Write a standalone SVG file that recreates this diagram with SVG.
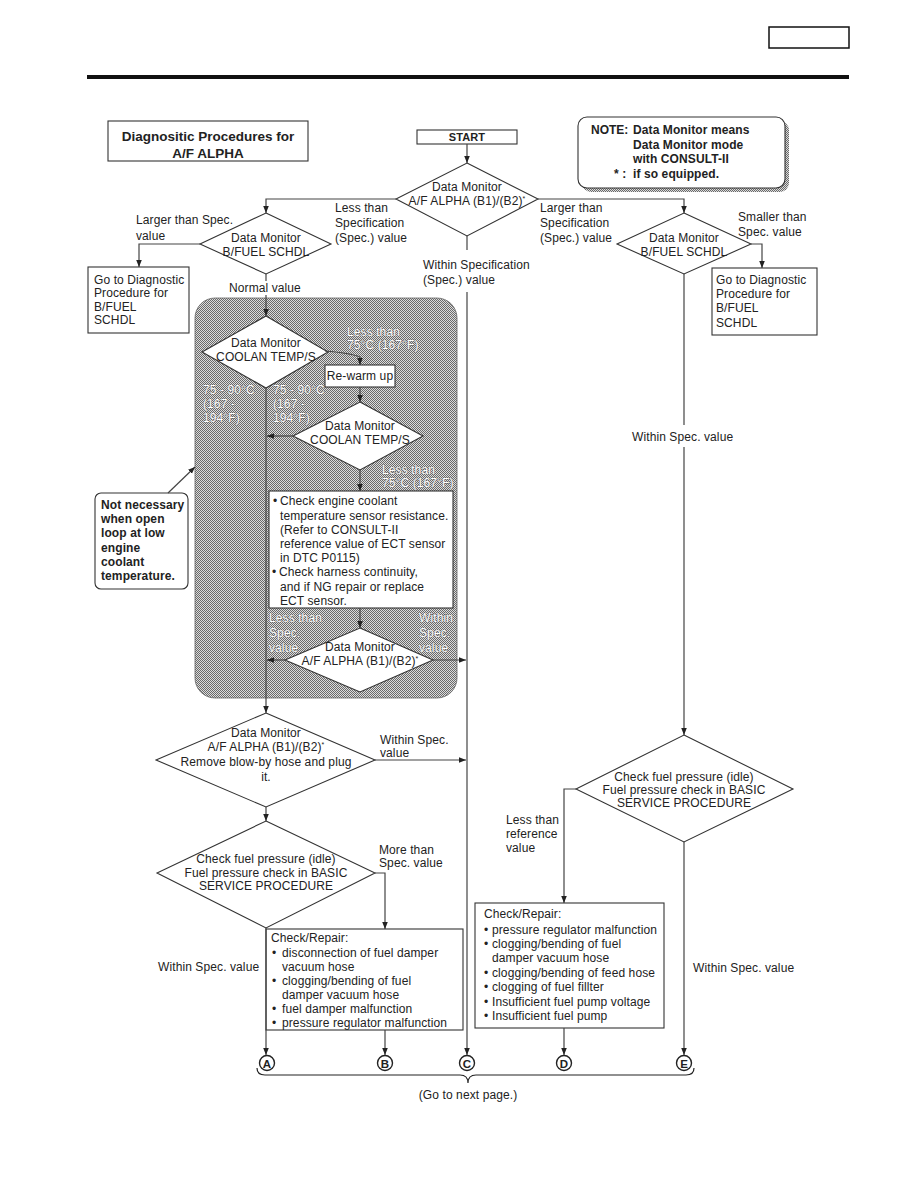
<svg xmlns="http://www.w3.org/2000/svg" width="918" height="1188" viewBox="0 0 918 1188">
<style>
text{font-family:"Liberation Sans",Arial,sans-serif;font-size:12px;letter-spacing:0.1px;fill:#222}
.b{font-weight:bold}
.c{text-anchor:middle}
.ht{fill:#fff;stroke:#555;stroke-width:0.6;paint-order:stroke}
.sh{fill:#fff;stroke:#222;stroke-width:1.4}
.nd{fill:#fff;stroke:#333;stroke-width:1.1}
.cn path{fill:none;stroke:#444;stroke-width:1.2}
.ar{marker-end:url(#ah)}
.lt{font-weight:bold;font-size:11.5px;letter-spacing:0}
</style>
<defs>
<pattern id="dither" width="2" height="2" patternUnits="userSpaceOnUse">
<rect width="2" height="2" fill="#dcdcdc"/>
<rect width="1" height="1" fill="#6a6a6a"/>
<rect x="1" y="1" width="1" height="1" fill="#6a6a6a"/>
</pattern>
<marker id="ah" viewBox="0 0 10 10" refX="10" refY="5" markerWidth="7" markerHeight="7" markerUnits="userSpaceOnUse" orient="auto">
<path d="M0,1 L10,5 L0,9 z" fill="#222"/>
</marker>
</defs>
<rect width="918" height="1188" fill="#fff"/>

<g id="header">
<rect x="769" y="27" width="80" height="21" fill="none" stroke="#111" stroke-width="1.5"/>
<rect x="87" y="75" width="762" height="4" fill="#111"/>
</g>

<g id="shaded-region">
<rect x="195" y="298" width="262" height="400" rx="20" fill="url(#dither)" stroke="#666" stroke-width="0.8"/>
</g>

<g id="title">
<rect class="nd" x="108" y="121" width="200" height="40"/>
<text class="b c" x="208" y="141" style="font-size:13.5px;letter-spacing:0">Diagnositic Procedures for</text>
<text class="b c" x="208" y="158" style="font-size:13.5px;letter-spacing:0">A/F ALPHA</text>
</g>

<g id="note">
<rect x="582" y="121" width="207" height="71" rx="9" fill="url(#dither)"/>
<rect class="nd" x="578" y="117" width="207" height="71" rx="9"/>
<text class="b" x="591" y="134" style="letter-spacing:0">NOTE:</text>
<text class="b" x="633" y="134">Data Monitor means</text>
<text class="b" x="633" y="149">Data Monitor mode</text>
<text class="b" x="633" y="163">with CONSULT-II</text>
<text class="b" x="614" y="178">* :</text>
<text class="b" x="633" y="178">if so equipped.</text>
</g>

<g id="start">
<rect class="nd" x="417" y="130" width="100" height="14"/>
<text class="b c" x="467" y="141" style="font-size:11px">START</text>
</g>

<g id="d1">
<polygon class="nd" points="467,163 538,199 467,236 396,199"/>
<text class="c" x="467" y="191">Data Monitor</text>
<text class="c" x="467" y="205">A/F ALPHA (B1)/(B2)<tspan dy="-4" style="font-size:7px">*</tspan></text>
</g>

<g id="d2">
<polygon class="nd" points="266,213 331,244 266,274 200,244"/>
<text class="c" x="266" y="242">Data Monitor</text>
<text class="c" x="266" y="256">B/FUEL SCHDL</text>
</g>

<g id="d3">
<polygon class="nd" points="684,213 751,244 684,274 617,244"/>
<text class="c" x="684" y="242">Data Monitor</text>
<text class="c" x="684" y="256">B/FUEL SCHDL</text>
</g>

<g id="goto-left">
<rect class="nd" x="88" y="267" width="101" height="66"/>
<text x="94" y="284">Go to Diagnostic</text>
<text x="94" y="297">Procedure for</text>
<text x="94" y="311">B/FUEL</text>
<text x="94" y="324">SCHDL</text>
</g>

<g id="goto-right">
<rect class="nd" x="712" y="268" width="105" height="67"/>
<text x="716" y="284">Go to Diagnostic</text>
<text x="716" y="298">Procedure for</text>
<text x="716" y="312">B/FUEL</text>
<text x="716" y="327">SCHDL</text>
</g>

<g id="d4">
<polygon class="nd" points="266,316 328,352 266,388 202,352"/>
<text class="c" x="266" y="347">Data Monitor</text>
<text class="c" x="266" y="361">COOLAN TEMP/S</text>
</g>

<g id="rewarm">
<rect class="nd" x="325" y="365" width="70" height="22"/>
<text class="c" x="360" y="380">Re-warm up</text>
</g>

<g id="d5">
<polygon class="nd" points="360,402 423,436 360,470 293,436"/>
<text class="c" x="360" y="430">Data Monitor</text>
<text class="c" x="360" y="444">COOLAN TEMP/S</text>
</g>

<g id="check-ect">
<rect class="nd" x="269" y="491" width="184" height="117"/>
<text x="273" y="505">•</text><text x="280" y="505">Check engine coolant</text>
<text x="280" y="520">temperature sensor resistance.</text>
<text x="280" y="534">(Refer to CONSULT-II</text>
<text x="280" y="548">reference value of ECT sensor</text>
<text x="280" y="562">in DTC P0115)</text>
<text x="272" y="576">•</text><text x="279" y="576">Check harness continuity,</text>
<text x="280" y="591">and if NG repair or replace</text>
<text x="280" y="605">ECT sensor.</text>
</g>

<g id="d6">
<polygon class="nd" points="360,628 433,660 360,692 285,660"/>
<text class="c" x="360" y="651">Data Monitor</text>
<text class="c" x="360" y="665">A/F ALPHA (B1)/(B2)<tspan dy="-4" style="font-size:7px">*</tspan></text>
</g>

<g id="not-necessary">
<rect class="nd" x="95" y="493" width="93" height="96" rx="6"/>
<text class="b" x="101" y="509">Not necessary</text>
<text class="b" x="101" y="523">when open</text>
<text class="b" x="101" y="537">loop at low</text>
<text class="b" x="101" y="552">engine</text>
<text class="b" x="101" y="566">coolant</text>
<text class="b" x="101" y="580">temperature.</text>
</g>

<g id="d7">
<polygon class="nd" points="266,713 375,760 266,807 156,760"/>
<text class="c" x="266" y="737">Data Monitor</text>
<text class="c" x="266" y="751">A/F ALPHA (B1)/(B2)<tspan dy="-4" style="font-size:7px">*</tspan></text>
<text class="c" x="266" y="766">Remove blow-by hose and plug</text>
<text class="c" x="266" y="781">it.</text>
</g>

<g id="d8">
<polygon class="nd" points="266,821 375,873 266,928 157,873"/>
<text class="c" x="266" y="863">Check fuel pressure (idle)</text>
<text class="c" x="266" y="877">Fuel pressure check in BASIC</text>
<text class="c" x="266" y="890">SERVICE PROCEDURE</text>
</g>

<g id="repair-b">
<rect class="nd" x="266" y="929" width="197" height="101"/>
<text x="271" y="942">Check/Repair:</text>
<text x="272" y="957">•</text><text x="282" y="957">disconnection of fuel damper</text>
<text x="282" y="971">vacuum hose</text>
<text x="272" y="985">•</text><text x="282" y="985">clogging/bending of fuel</text>
<text x="282" y="999">damper vacuum hose</text>
<text x="272" y="1013">•</text><text x="282" y="1013">fuel damper malfunction</text>
<text x="272" y="1027">•</text><text x="282" y="1027">pressure regulator malfunction</text>
</g>

<g id="d9">
<polygon class="nd" points="684,735 793,789 684,842 576,789"/>
<text class="c" x="684" y="781">Check fuel pressure (idle)</text>
<text class="c" x="684" y="794">Fuel pressure check in BASIC</text>
<text class="c" x="684" y="807">SERVICE PROCEDURE</text>
</g>

<g id="repair-d">
<rect class="nd" x="475" y="903" width="189" height="125"/>
<text x="484" y="918">Check/Repair:</text>
<text x="484" y="934">•</text><text x="492" y="934">pressure regulator malfunction</text>
<text x="484" y="948">•</text><text x="492" y="948">clogging/bending of fuel</text>
<text x="492" y="962">damper vacuum hose</text>
<text x="484" y="977">•</text><text x="492" y="977">clogging/bending of feed hose</text>
<text x="484" y="991">•</text><text x="492" y="991">clogging of fuel fillter</text>
<text x="484" y="1006">•</text><text x="492" y="1006">Insufficient fuel pump voltage</text>
<text x="484" y="1020">•</text><text x="492" y="1020">Insufficient fuel pump</text>
</g>

<g id="connectors" class="cn">
<path class="ar" d="M467,144 V163"/>
<path class="ar" d="M396,199 H266 V213"/>
<path class="ar" d="M538,199 H684 V213"/>
<path class="ar" d="M200,244 H139 V267"/>
<path class="ar" d="M751,244 H762 V268"/>
<path d="M467,236 V250"/>
<path class="ar" d="M467,292 V1055"/>
<path d="M266,274 V281"/>
<path class="ar" d="M266,295 V316"/>
<path class="ar" d="M325,351 Q350,353 360,357 V365"/>
<path class="ar" d="M360,387 V402"/>
<path class="ar" d="M293,436 H267"/>
<path class="ar" d="M266,388 V713"/>
<path class="ar" d="M360,470 V491"/>
<path class="ar" d="M360,608 V628"/>
<path class="ar" d="M285,660 H267"/>
<path class="ar" d="M433,660 H466"/>
<path class="ar" d="M375,760 H466"/>
<path class="ar" d="M266,807 V821"/>
<path class="ar" d="M375,873 H385 V929"/>
<path class="ar" d="M266,928 V1055"/>
<path class="ar" d="M385,1030 V1055"/>
<path d="M684,274 V425"/>
<path class="ar" d="M684,447 V735"/>
<path class="ar" d="M576,789 H564 V903"/>
<path class="ar" d="M564,1028 V1055"/>
<path class="ar" d="M684,842 V1055"/>
<path class="ar" d="M168,493 L195,467"/>
<path d="M257,1068 Q257,1075 265,1075 H460 Q468,1075 468,1083 Q468,1075 476,1075 H686 Q694,1075 694,1068" style="stroke:#222"/>
</g>

<g id="labels">
<text x="136" y="224">Larger than Spec.</text>
<text x="136" y="240">value</text>
<text x="335" y="212">Less than</text>
<text x="335" y="227">Specification</text>
<text x="335" y="242">(Spec.) value</text>
<text x="540" y="212">Larger than</text>
<text x="540" y="227">Specification</text>
<text x="540" y="242">(Spec.) value</text>
<text x="738" y="221">Smaller than</text>
<text x="738" y="236">Spec. value</text>
<text x="229" y="292">Normal value</text>
<text x="423" y="269">Within Specification</text>
<text x="423" y="284">(Spec.) value</text>
<text x="632" y="441">Within Spec. value</text>
<text class="ht" x="347" y="336">Less than</text>
<text class="ht" x="347" y="349">75°C (167°F)</text>
<text class="ht" x="203" y="394">75 - 90°C</text>
<text class="ht" x="203" y="408">(167 -</text>
<text class="ht" x="203" y="422">194°F)</text>
<text class="ht" x="273" y="394">75 - 90°C</text>
<text class="ht" x="273" y="408">(167 -</text>
<text class="ht" x="273" y="422">194°F)</text>
<text class="ht" x="382" y="474">Less than</text>
<text class="ht" x="382" y="487">75°C (167°F)</text>
<text class="ht" x="269" y="622">Less than</text>
<text class="ht" x="269" y="637">Spec.</text>
<text class="ht" x="269" y="652">value</text>
<text class="ht" x="419" y="622">Within</text>
<text class="ht" x="419" y="637">Spec.</text>
<text class="ht" x="419" y="652">value</text>
<text x="380" y="744">Within Spec.</text>
<text x="380" y="757">value</text>
<text x="379" y="854">More than</text>
<text x="379" y="867">Spec. value</text>
<text x="158" y="971">Within Spec. value</text>
<text x="506" y="824">Less than</text>
<text x="506" y="838">reference</text>
<text x="506" y="852">value</text>
<text x="693" y="972">Within Spec. value</text>
<text class="c" x="468" y="1099">(Go to next page.)</text>
</g>

<g id="connector-A"><circle class="sh" cx="267" cy="1063" r="7.5"/><text class="lt c" x="267" y="1067.5">A</text></g>
<g id="connector-B"><circle class="sh" cx="385" cy="1063" r="7.5"/><text class="lt c" x="385" y="1067.5">B</text></g>
<g id="connector-C"><circle class="sh" cx="467" cy="1063" r="7.5"/><text class="lt c" x="467" y="1067.5">C</text></g>
<g id="connector-D"><circle class="sh" cx="564" cy="1063" r="7.5"/><text class="lt c" x="564" y="1067.5">D</text></g>
<g id="connector-E"><circle class="sh" cx="684" cy="1063" r="7.5"/><text class="lt c" x="684" y="1067.5">E</text></g>
</svg>
